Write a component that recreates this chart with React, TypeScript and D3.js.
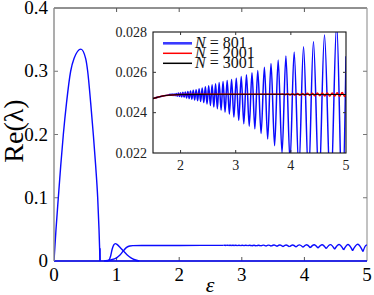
import React from "react";
import * as d3 from "d3";

// ---------- data ----------
const mainTicksX = [0, 1, 2, 3, 4, 5];
const mainTicksY = [0, 0.1, 0.2, 0.3, 0.4];
const insetTicksX = [2, 3, 4, 5];
const insetTicksY = [0.022, 0.024, 0.026, 0.028];

// main panel: unstable hump
const humpX = [0, 0.032, 0.069, 0.107, 0.149, 0.2, 0.266, 0.32, 0.43, 0.506, 0.538, 0.586, 0.628, 0.666, 0.698, 0.719, 0.735];
const humpY = [0, 0.05, 0.1, 0.15, 0.2, 0.25, 0.3, 0.32, 0.335, 0.32, 0.3, 0.25, 0.2, 0.15, 0.1, 0.05, 0];

// zero branch
const zeroX = [0, 5];
const zeroY = [0, 0];

// small bump that decays
const bump1X = [0.84, 0.88, 0.905, 0.93, 0.955, 0.98, 1.01, 1.06, 1.107, 1.17, 1.23, 1.29, 1.36];
const bump1Y = [0, 0.0015, 0.008, 0.019, 0.0255, 0.0275, 0.026, 0.021, 0.016, 0.0095, 0.005, 0.002, 0];

// branch that rises to the plateau
const bump2X = [0.8, 0.9, 1.0, 1.05, 1.107, 1.16, 1.21, 1.26, 1.4, 2.0, 2.71];
const bump2Y = [0, 0.0015, 0.005, 0.009, 0.016, 0.0215, 0.0238, 0.0243, 0.0245, 0.0246, 0.0247];

// plateau scallops (cusps and arch tops)
const tailCuspX = [2.71, 2.75, 2.79, 2.835, 2.88, 2.93, 2.98, 3.035, 3.095, 3.16, 3.23, 3.305, 3.385, 3.47, 3.562, 3.658, 3.76, 3.866, 3.978, 4.094, 4.217, 4.349, 4.483, 4.627, 4.77, 4.936];
const tailCuspY = [0.0247, 0.0246, 0.0246, 0.0245, 0.0245, 0.0244, 0.0244, 0.0243, 0.0242, 0.0241, 0.024, 0.0238, 0.0236, 0.0234, 0.0231, 0.0228, 0.0225, 0.0221, 0.0216, 0.021, 0.0203, 0.0195, 0.0186, 0.0176, 0.0164, 0.0148];
const tailArchTop = [0.0249, 0.0249, 0.0249, 0.0249, 0.0249, 0.0249, 0.025, 0.025, 0.025, 0.025, 0.025, 0.0251, 0.0251, 0.0252, 0.0252, 0.0253, 0.0254, 0.0255, 0.0256, 0.0257, 0.0258, 0.0259, 0.026, 0.0262, 0.0264];
const tailEndX = 5.0;
const tailEndY = 0.0256;

// inset, N = 801
const n801LeadX = [1.5, 1.6, 1.7, 1.78];
const n801LeadY = [0.0247, 0.02478, 0.02484, 0.02488];
const n801PeakX = [1.81, 1.846, 1.882, 1.92, 1.96, 2.0, 2.042, 2.086, 2.132, 2.18, 2.23, 2.282, 2.336, 2.392, 2.45, 2.51, 2.572, 2.635, 2.7, 2.77, 2.845, 2.925, 3.01, 3.1, 3.195, 3.295, 3.4, 3.52, 3.64, 3.77, 3.91, 4.06, 4.23, 4.41, 4.61, 4.83];
const n801PeakY = [0.02491, 0.02492, 0.02493, 0.02495, 0.02497, 0.02499, 0.02501, 0.02503, 0.02505, 0.02508, 0.02511, 0.02514, 0.02518, 0.02522, 0.02528, 0.02534, 0.02539, 0.02544, 0.02549, 0.02555, 0.0256, 0.02565, 0.02571, 0.02579, 0.02588, 0.02598, 0.02609, 0.02625, 0.02644, 0.02661, 0.02681, 0.02701, 0.02727, 0.02752, 0.02785, 0.0284];
const n801TroughX = [1.828, 1.864, 1.901, 1.94, 1.98, 2.021, 2.064, 2.109, 2.156, 2.205, 2.256, 2.309, 2.364, 2.421, 2.48, 2.541, 2.603, 2.667, 2.735, 2.807, 2.885, 2.967, 3.055, 3.147, 3.245, 3.347, 3.46, 3.58, 3.705, 3.84, 3.985, 4.145, 4.32, 4.51, 4.72, 4.93];
const n801TroughY = [0.02486, 0.02485, 0.02484, 0.02482, 0.0248, 0.02478, 0.02476, 0.02473, 0.0247, 0.02467, 0.02463, 0.02459, 0.02455, 0.0245, 0.02443, 0.02436, 0.02428, 0.0242, 0.02412, 0.02403, 0.02393, 0.02378, 0.02362, 0.02345, 0.02333, 0.0232, 0.02297, 0.02269, 0.02236, 0.022, 0.0216, 0.0212, 0.0208, 0.0204, 0.0199, 0.0194];
const n801EndX = [5.0];
const n801EndY = [0.0268];

// inset, N = 2001
const n2001X = [1.5, 1.6, 1.7, 1.8, 1.9, 2.0, 2.5, 3.0, 3.5, 3.8, 3.85, 3.895, 3.94, 3.985, 4.03, 4.075, 4.12, 4.165, 4.21, 4.255, 4.3, 4.345, 4.39, 4.435, 4.48, 4.525, 4.57, 4.615, 4.66, 4.705, 4.75, 4.795, 4.84, 4.885, 4.93, 4.975, 5.0];
const n2001Y = [0.0247, 0.02478, 0.02484, 0.02487, 0.02489, 0.0249, 0.02491, 0.02491, 0.02491, 0.02491, 0.02493, 0.02489, 0.02494, 0.02488, 0.02494, 0.02487, 0.02495, 0.02486, 0.02495, 0.02486, 0.02496, 0.02485, 0.02496, 0.02484, 0.02497, 0.02484, 0.02497, 0.02483, 0.02498, 0.02482, 0.02498, 0.02482, 0.02499, 0.02481, 0.025, 0.0248, 0.02492];

// inset, N = 3001
const n3001X = [1.5, 1.6, 1.7, 1.8, 1.9, 2.0, 2.5, 3.0, 4.0, 5.0];
const n3001Y = [0.0247, 0.02478, 0.02484, 0.02487, 0.02489, 0.0249, 0.02491, 0.02491, 0.02491, 0.0249];

const legendLabels = ["801", "2001", "3001"];
const legendColors = ["#3a3aff", "#ff0000", "#000000"];

// ---------- layout ----------
const W = 374;
const H = 295;
const FONT = "Liberation Serif";
const BLUE = "#0a0aff";
const tf = (size: number, extra: React.CSSProperties = {}): React.CSSProperties => ({
  fontFamily: FONT,
  fontSize: size,
  ...extra,
});

const mx = d3.scaleLinear().domain([0, 5]).range([54, 367]);
const my = d3.scaleLinear().domain([0, 0.4]).range([261, 8]);
const ix = d3.scaleLinear().domain([1.5, 5]).range([153, 346]);
const iy = d3.scaleLinear().domain([0.022, 0.028]).range([153, 32]);

const zip = (xs: number[], ys: number[]) => xs.map((x, i) => [x, ys[i]] as [number, number]);

const mainLine = d3.line<[number, number]>().x(d => mx(d[0])).y(d => my(d[1])).curve(d3.curveMonotoneX);
const mainNatural = d3.line<[number, number]>().x(d => mx(d[0])).y(d => my(d[1])).curve(d3.curveNatural);
const insetLine = d3.line<[number, number]>().x(d => ix(d[0])).y(d => iy(d[1])).curve(d3.curveCatmullRom.alpha(0.5));
const insetLin = d3.line<[number, number]>().x(d => ix(d[0])).y(d => iy(d[1])).curve(d3.curveMonotoneX);

function tailPath(): string {
  let p = "";
  for (let i = 0; i < tailCuspX.length - 1; i++) {
    const pts: [number, number][] = [
      [tailCuspX[i], tailCuspY[i]],
      [(tailCuspX[i] + tailCuspX[i + 1]) / 2, tailArchTop[i]],
      [tailCuspX[i + 1], tailCuspY[i + 1]],
    ];
    p += mainNatural(pts) || "";
  }
  const last = tailCuspX.length - 1;
  p += mainNatural([
    [tailCuspX[last], tailCuspY[last]],
    [(tailCuspX[last] + tailEndX) / 2, (tailCuspY[last] + tailEndY * 3) / 4],
    [tailEndX, tailEndY],
  ]) || "";
  return p;
}

function n801Points(): [number, number][] {
  const pts: [number, number][] = [
    ...zip(n801LeadX, n801LeadY),
    ...zip(n801PeakX, n801PeakY),
    ...zip(n801TroughX, n801TroughY),
    ...zip(n801EndX, n801EndY),
  ];
  return pts.sort((a, b) => a[0] - b[0]);
}

export default function App() {
  const tick = 4;
  return (
    <svg width={W} height={H} style={{ position: "fixed", left: 0, top: 0, background: "#fff" }}>
      <rect x={0} y={0} width={W} height={H} fill="#fff" />
      <defs>
        <clipPath id="insetClip">
          <rect x={ix(1.5)} y={iy(0.028)} width={ix(5) - ix(1.5)} height={iy(0.022) - iy(0.028)} />
        </clipPath>
        <clipPath id="mainClip">
          <rect x={mx(0)} y={my(0.4)} width={mx(5) - mx(0)} height={my(0) - my(0.4) + 2} />
        </clipPath>
      </defs>

      {/* main frame */}
      <line x1={mx(0)} x2={mx(5)} y1={my(0.4)} y2={my(0.4)} stroke="#222" strokeWidth={1} />
      <line x1={mx(5)} x2={mx(5)} y1={my(0.4)} y2={my(0)} stroke="#999" strokeWidth={1.2} />
      <line x1={mx(0)} x2={mx(5)} y1={my(0)} y2={my(0)} stroke="#222" strokeWidth={1} />
      {mainTicksX.slice(1, -1).map(t => (
        <g key={"mtx" + t}>
          <line x1={mx(t)} x2={mx(t)} y1={my(0)} y2={my(0) - tick} stroke="#555" />
          <line x1={mx(t)} x2={mx(t)} y1={my(0.4)} y2={my(0.4) + tick} stroke="#555" />
        </g>
      ))}
      {mainTicksY.slice(1, -1).map(t => (
        <g key={"mty" + t}>
          <line x1={mx(0)} x2={mx(0) + tick} y1={my(t)} y2={my(t)} stroke="#777" />
          <line x1={mx(5)} x2={mx(5) - tick} y1={my(t)} y2={my(t)} stroke="#777" />
        </g>
      ))}

      {/* main curves */}
      <g clipPath="url(#mainClip)" fill="none" stroke={BLUE} strokeWidth={1.4}>
        <path d={mainLine(zip(zeroX, zeroY)) || ""} strokeWidth={1.6} />
        <path d={mainLine(zip(humpX, humpY)) || ""} />
        <line x1={mx(humpX[humpX.length - 1])} x2={mx(humpX[humpX.length - 1])} y1={my(0)} y2={my(0.02)} />
        <path d={mainLine(zip(bump1X, bump1Y)) || ""} />
        <path d={mainLine(zip(bump2X, bump2Y)) || ""} />
        <path d={tailPath()} />
      </g>
      <line x1={mx(0)} x2={mx(0)} y1={my(0.4)} y2={my(0)} stroke="#8a8a8a" strokeWidth={1.4} />

      {/* main tick labels */}
      {mainTicksX.map(t => (
        <text key={"mlx" + t} x={mx(t)} y={281} style={tf(19)} textAnchor="middle" fill="#000">
          {d3.format("d")(t)}
        </text>
      ))}
      {mainTicksY.map(t => (
        <text key={"mly" + t} x={mx(0) - 6} y={my(t) + 6} style={tf(19)} textAnchor="end" fill="#000">
          {t === 0 ? "0" : d3.format(".1f")(t)}
        </text>
      ))}
      <text transform={`translate(23,131) rotate(-90)`} style={tf(28)} textAnchor="middle" fill="#000">
        Re(λ)
      </text>
      <text x={210} y={292} style={tf(22, { fontStyle: "italic" })} textAnchor="middle" fill="#000">
        ε
      </text>

      {/* inset */}
      <rect x={ix(1.5)} y={iy(0.028)} width={ix(5) - ix(1.5)} height={iy(0.022) - iy(0.028)} fill="#fff" />
      <g clipPath="url(#insetClip)" fill="none">
        <path d={insetLine(n801Points()) || ""} stroke={BLUE} strokeWidth={1.5} />
        <path d={insetLin(zip(n2001X, n2001Y)) || ""} stroke="#ff0000" strokeWidth={1.5} />
        <path d={insetLin(zip(n3001X, n3001Y)) || ""} stroke="#000" strokeWidth={1.1} />
      </g>
      <rect x={ix(1.5)} y={iy(0.028)} width={ix(5) - ix(1.5)} height={iy(0.022) - iy(0.028)} fill="none" stroke="#111" strokeWidth={1.1} />
      {insetTicksX.slice(0, -1).map(t => (
        <g key={"itx" + t}>
          <line x1={ix(t)} x2={ix(t)} y1={iy(0.022)} y2={iy(0.022) - 3} stroke="#333" />
          <line x1={ix(t)} x2={ix(t)} y1={iy(0.028)} y2={iy(0.028) + 3} stroke="#333" />
        </g>
      ))}
      {insetTicksY.slice(1, -1).map(t => (
        <g key={"ity" + t}>
          <line x1={ix(1.5)} x2={ix(1.5) + 3} y1={iy(t)} y2={iy(t)} stroke="#333" />
          <line x1={ix(5)} x2={ix(5) - 3} y1={iy(t)} y2={iy(t)} stroke="#333" />
        </g>
      ))}
      {insetTicksX.map(t => (
        <text key={"ilx" + t} x={ix(t)} y={169.5} style={tf(14)} textAnchor="middle" fill="#222">
          {t}
        </text>
      ))}
      {insetTicksY.map(t => (
        <text key={"ily" + t} x={ix(1.5) - 6} y={iy(t) + 4.5} style={tf(14)} textAnchor="end" fill="#222">
          {d3.format(".3f")(t)}
        </text>
      ))}

      {/* legend */}
      {legendLabels.map((lab, i) => (
        <g key={"lg" + lab}>
          <line x1={163} x2={192} y1={43.3 + i * 10} y2={43.3 + i * 10} stroke={legendColors[i]} strokeWidth={i === 0 ? 2.6 : 1.5} />
          <text x={195} y={47.8 + i * 10} style={tf(16)} fill="#111">
            <tspan fontStyle="italic">N</tspan>
            <tspan dx={4}>=</tspan>
            <tspan dx={4}>{lab}</tspan>
          </text>
        </g>
      ))}
    </svg>
  );
}
